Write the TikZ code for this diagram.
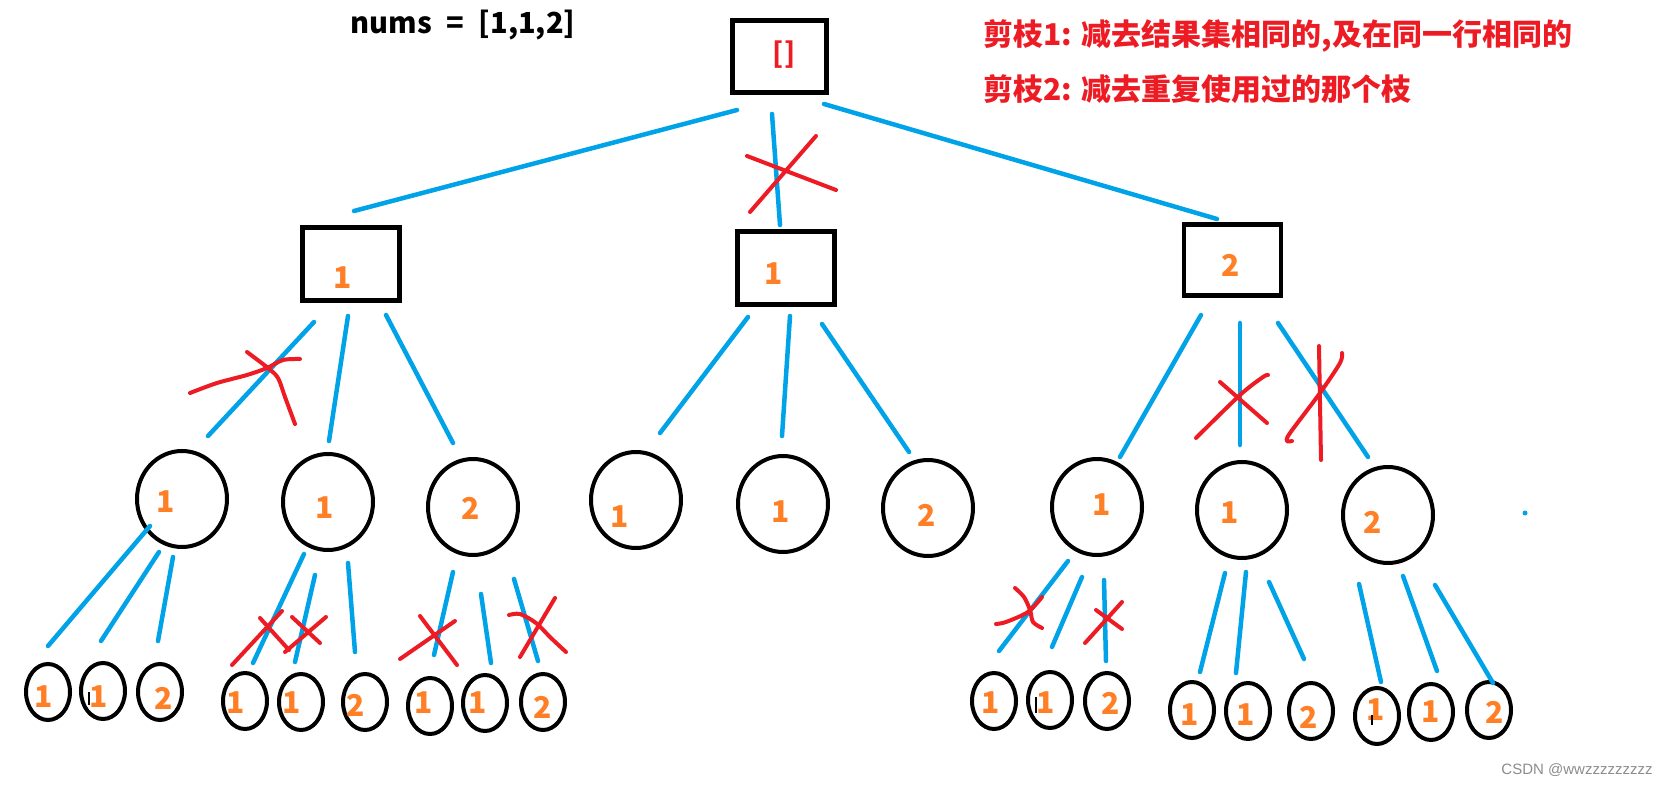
\documentclass[tikz,border=0pt]{standalone}
\usepackage{fontspec}
\usepackage{tikz}
\usetikzlibrary{shapes.geometric}
\newfontfamily\cjk{Noto Sans CJK SC}
\definecolor{branchblue}{HTML}{00A2E8}
\definecolor{cutred}{HTML}{ED1C24}
\definecolor{numorange}{HTML}{FF7F27}
\tikzset{%
	box/.style={
		draw,
		line width=4.5pt,
		minimum width=97pt,
		minimum height=73pt,
		inner sep=0pt
	},
	ring/.style={
		ellipse,
		draw,
		line width=4pt,
		minimum width=90pt,
		minimum height=96pt,
		inner sep=0pt
	},
	leaf/.style={
		ellipse,
		draw,
		line width=4pt,
		minimum width=44pt,
		minimum height=56pt,
		inner sep=0pt
	},
	digit/.style={
		text=numorange,
		font=\cjk\bfseries\fontsize{30}{30}\selectfont,
		inner sep=0pt
	},
	branch/.style={draw=branchblue, line width=4.5pt, line cap=round},
	cut/.style={draw=cutred, line width=4pt, line cap=round, line join=round},
}

\begin{document}
\begin{tikzpicture}[x=1pt, y=-1pt]
			\useasboundingbox (0,0) rectangle (1666,786);
			
			% Title and the two pruning rules
			\node[font=\cjk\bfseries\fontsize{29}{29}\selectfont] (nums) at (463,25) {nums\hspace{0.5em}=\hspace{0.5em}[1,1,2]};
			\node[anchor=west, text=cutred, font=\cjk\bfseries\fontsize{30}{30}\selectfont] (rule1) at (980,36) {剪枝1: 减去结果集相同的,及在同一行相同的};
			\node[anchor=west, text=cutred, font=\cjk\bfseries\fontsize{30}{30}\selectfont] (rule2) at (980,89) {剪枝2: 减去重复使用过的那个枝};
			
			% Root box
			\node[box, minimum width=94pt, minimum height=72pt] (root) at (779.5,56.5) {};
			\node[text=cutred, font=\cjk\bfseries\fontsize{28}{28}\selectfont, inner sep=0pt] (root-d) at (784,55) {[]};
			
			% First level boxes
			\node[box] (b1) at (351,264) {};
			\node[digit] (b1-d) at (343,278) {1};
			\node[box] (b2) at (786,268) {};
			\node[digit] (b2-d) at (774,274) {1};
			\node[box, minimum height=71pt] (b3) at (1232.5,260) {};
			\node[digit] (b3-d) at (1231,265) {2};
			
			% Second level circles
			\foreach \n/\x/\y/\tx/\ty/\d in {c1/182/499/166/502/1, c2/328/502/325/508/1, c3/473/507/471/508/2,
				c4/636/500/620/517/1, c5/783/504/781/512/1, c6/928/508/927/515/2,
				c7/1097/507/1102/505/1, c8/1242/510/1230/513/1, c9/1388/515/1373/522/2} {
				\node[ring] (\n) at (\x,\y) {};
				\node[digit] (\n-d) at (\tx,\ty) {\d};
			}
			
			% Leaves
			\foreach \n/\x/\y/\tx/\ty/\d in {l1/48/692/44/697/1, l2/103/691/99/697/1, l3/160/692/164/698/2,
				l4/245/701/236/703/1, l5/301/702/292/703/1, l6/365/702/356/705/2,
				l7/430/706/424/703/1, l8/485/703/478/703/1, l9/543/702/543/707/2,
				r1/994/701/991/703/1, r2/1050/700/1046/703/1, r3/1107/701/1111/703/2,
				r4/1192/710/1190/715/1, r5/1248/711/1246/715/1, r6/1311/711/1309/717/2,
				r7/1377/716/1376/710/1, r8/1431/712/1431/712/1, r9/1489/710/1495/712/2} {
				\node[leaf] (\n) at (\x,\y) {};
				\node[digit] (\n-d) at (\tx,\ty) {\d};
			}
			
			% Stray pen marks
			\draw[line width=1.5pt] (89,692) coordinate (t1) -- (89,705);
			\draw[line width=1.5pt] (1036,697) coordinate (t2) -- (1036,713);
			\draw[line width=1.5pt] (1372,715) coordinate (t3) -- (1372,725);
			\fill[branchblue] (1525,513) coordinate (dot) circle (2.5);
			
			% Branches
			\foreach \n/\ax/\ay/\bx/\by in {e1/737/110/354/211, e2/772/114/780/225, e3/824/104/1217/219,
				e4/314/322/208/436, e5/348/316/329/441, e6/386/315/453/443,
				e7/748/317/660/433, e8/790/316/782/436, e9/822/324/909/452,
				e10/1201/315/1120/457, e11/1240/323/1240/445, e12/1278/323/1368/457,
				e13/150/526/48/646, e14/159/552/101/641, e15/173/557/158/641,
				e16/304/554/253/663, e17/315/575/295/662, e18/348/563/355/652,
				e19/453/572/434/655, e20/481/594/491/663, e21/514/579/538/661,
				e22/1068/561/999/651, e23/1082/577/1052/647, e24/1104/580/1106/661,
				e25/1225/573/1200/672, e26/1246/572/1236/673, e27/1269/582/1304/659,
				e28/1359/584/1381/682, e29/1403/576/1437/671, e30/1435/585/1493/683} {
				\coordinate (\n-a) at (\ax,\ay);
				\coordinate (\n-b) at (\bx,\by);
				\draw[branch] (\n-a) -- (\n-b);
			}
			
			% Red crosses
			\draw[cut] (747,156) -- (836,190);
			\draw[cut] (816,136) -- (750,212);
			\draw[cut] plot[smooth] coordinates {(190,393) (217,383) (247,375) (267,368) (283,360) (300,359)};
			\draw[cut] plot[smooth] coordinates {(247,352) (268,368) (278,378) (285,397) (295,424)};
			\draw[cut] (1220,382) -- (1267,423);
			\draw[cut] plot[smooth] coordinates {(1196,438) (1240,395) (1263,377) (1268,375)};
			\draw[cut] (1319,346) -- (1321,460);
			\draw[cut] plot[smooth] coordinates {(1342,353) (1340,363) (1320,393) (1290,433) (1287,441) (1292,441)};
			\draw[cut] (232,665) -- (282,611);
			\draw[cut] (260,618) -- (289,650);
			\draw[cut] (292,617) -- (320,643);
			\draw[cut] (285,652) -- (326,617);
			\draw[cut] (400,659) -- (455,621);
			\draw[cut] (420,616) -- (457,665);
			\draw[cut] plot[smooth] coordinates {(509,615) (520,614) (536,623) (551,638) (566,652)};
			\draw[cut] (555,598) -- (520,657);
			\draw[cut] plot[smooth] coordinates {(996,624) (1006,622) (1028,612) (1042,597)};
			\draw[cut] plot[smooth] coordinates {(1015,588) (1024,597) (1030,610) (1033,622) (1042,628)};
			\draw[cut] plot[smooth] coordinates {(1085,643) (1095,632) (1122,602)};
			\draw[cut] (1096,610) -- (1122,629);
			
			% Watermark
			\node[text=black!45, font=\fontspec{Liberation Sans}\fontsize{15}{15}\selectfont] (mark) at (1577,770) {CSDN @wwzzzzzzzzz};
		\end{tikzpicture}
\end{document}
